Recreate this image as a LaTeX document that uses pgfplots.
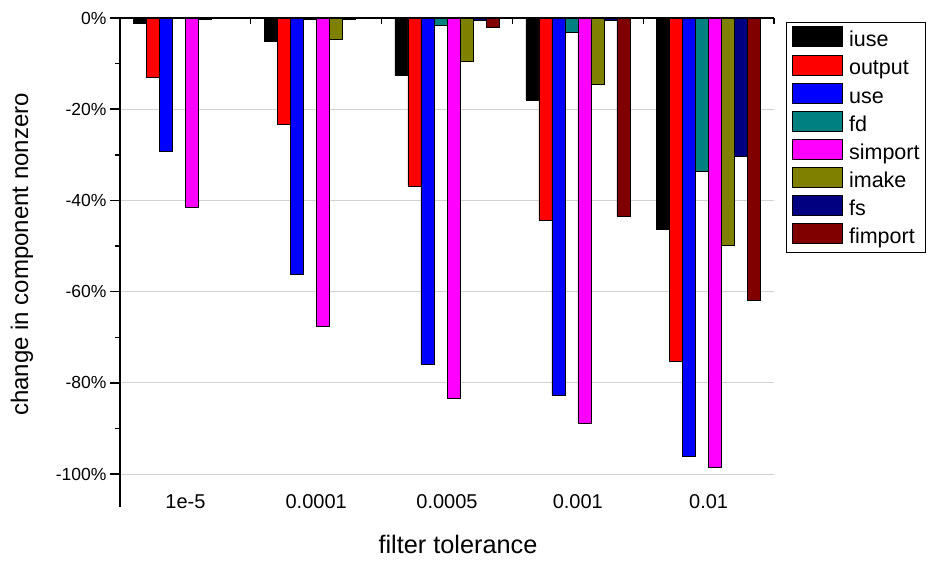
\documentclass[border=0pt]{standalone}
\usepackage{pgfplots}
\pgfplotsset{compat=1.18}
\usepackage{fontspec}
\setmainfont{Liberation Sans}
\definecolor{cfd}{RGB}{0,128,128}
\definecolor{csimport}{RGB}{255,0,255}
\definecolor{cimake}{RGB}{128,128,0}
\definecolor{cfs}{RGB}{0,0,128}
\definecolor{cfimport}{RGB}{128,0,0}
\pgfplotsset{
  mylegend/.style={legend image code/.code={
    \draw[##1, draw=black, line width=0.8bp] (0bp,-6.5bp) rectangle (50bp,13.5bp);
    \path (56bp,0bp);}},
}
\begin{document}
\begin{tikzpicture}
\begin{axis}[
  at={(0,0)}, anchor=north west,
  scale only axis, width=654bp, height=489bp,
  xmin=-0.5, xmax=4.5, ymin=-107.2, ymax=0,
  ybar=0pt, bar width=13bp,
  axis y line*=left, axis x line*=top,
  axis line style={line width=1.5bp},
  xtick={0,1,2,3,4},
  xticklabels={1e-5,0.0001,0.0005,0.001,0.01},
  xtick style={draw=none},
  xticklabel style={anchor=base, yshift=-500bp, font=\fontsize{20bp}{23bp}\selectfont},
  extra x ticks={-0.5,0.5,1.5,2.5,3.5,4.5},
  extra x tick labels={},
  extra x tick style={xtick style={draw=black, line width=1.2bp}, major tick length=6bp, tick align=inside, grid=none},
  ytick={-100,-80,-60,-40,-20,0},
  yticklabels={-100\%,-80\%,-60\%,-40\%,-20\%,0\%},
  minor ytick={-90,-70,-50,-30,-10},
  ytick style={line width=1.5bp, black},
  tick align=outside,
  major tick length=10bp, minor tick length=5bp,
  ymajorgrids,
  major grid style={gray!35, line width=1bp},
  yticklabel style={font=\fontsize{17.5bp}{20bp}\selectfont},
  xlabel={filter tolerance},
  ylabel={change in component nonzero},
  every axis x label/.style={at={(axis description cs:0.5168,-0.0758)}, anchor=center, font=\fontsize{25.3bp}{29bp}\selectfont},
  every axis y label/.style={at={(axis description cs:-0.150,0.5164)}, rotate=90, anchor=center, font=\fontsize{24bp}{28bp}\selectfont},
  legend style={at={(axis description cs:1.0183,0.9918)}, anchor=north west,
    draw=black, line width=0.8bp, inner xsep=6bp, inner ysep=4bp,
    font=\fontsize{21.5bp}{24bp}\selectfont,
    row sep=2.7bp,
    nodes={inner sep=0pt, text height=18bp, text depth=5bp}},
  legend cell align=left,
  every axis plot/.append style={draw=black, line width=0.6bp},
]
\addplot[fill=black, mylegend] coordinates {(0,-1.2) (1,-5.0) (2,-12.6) (3,-18.0) (4,-46.4)};
\addplot[fill=red, mylegend] coordinates {(0,-12.9) (1,-23.2) (2,-36.8) (3,-44.3) (4,-75.2)};
\addplot[fill=blue, mylegend] coordinates {(0,-29.2) (1,-56.1) (2,-75.9) (3,-82.7) (4,-96.1)};
\addplot[fill=cfd, mylegend] coordinates {(0,0) (1,-0.3) (2,-1.7) (3,-3.2) (4,-33.5)};
\addplot[fill=csimport, mylegend] coordinates {(0,-41.6) (1,-67.5) (2,-83.3) (3,-88.8) (4,-98.5)};
\addplot[fill=cimake, mylegend] coordinates {(0,-0.3) (1,-4.6) (2,-9.6) (3,-14.6) (4,-49.8)};
\addplot[fill=cfs, mylegend] coordinates {(0,0) (1,-0.2) (2,-0.4) (3,-0.4) (4,-30.4)};
\addplot[fill=cfimport, mylegend] coordinates {(0,0) (1,0) (2,-2.0) (3,-43.4) (4,-61.8)};
\legend{iuse,output,use,fd,simport,imake,fs,fimport}
\end{axis}
\pgfresetboundingbox
\path (-120bp,18bp) rectangle (809bp,-543bp);
\end{tikzpicture}
\end{document}
